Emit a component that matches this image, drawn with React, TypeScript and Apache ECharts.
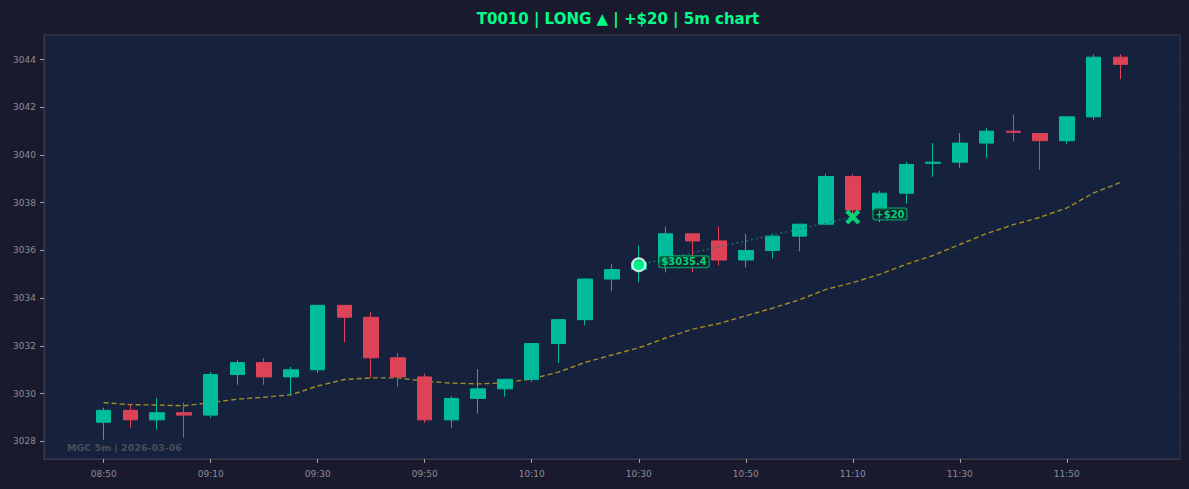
import React, { useEffect, useRef } from "react";
import * as echarts from "echarts";

// Candle times (5m bars) starting 08:50
const startMinutes = 8 * 60 + 50;
const barMinutes = 5;
// OHLC per bar
const opens = [3028.8, 3029.3, 3028.9, 3029.2, 3029.1, 3030.8, 3031.3, 3030.7, 3031.0, 3033.7, 3033.2, 3031.5, 3030.7, 3028.9, 3029.8, 3030.2, 3030.6, 3032.1, 3033.1, 3034.8, 3035.2, 3035.5, 3036.7, 3036.4, 3035.6, 3036.0, 3036.6, 3037.1, 3039.1, 3037.7, 3038.4, 3039.65, 3039.7, 3040.5, 3041.0, 3040.9, 3040.6, 3041.6, 3044.1];
const closes = [3029.3, 3028.9, 3029.2, 3029.1, 3030.8, 3031.3, 3030.7, 3031.0, 3033.7, 3033.2, 3031.5, 3030.7, 3028.9, 3029.8, 3030.2, 3030.6, 3032.1, 3033.1, 3034.8, 3035.2, 3035.5, 3036.7, 3036.4, 3035.6, 3036.0, 3036.6, 3037.1, 3039.1, 3037.7, 3038.4, 3039.6, 3039.7, 3040.5, 3041.0, 3040.95, 3040.6, 3041.6, 3044.1, 3043.8];
const lows = [3028.07, 3028.57, 3028.49, 3028.15, 3028.99, 3030.37, 3030.37, 3029.95, 3030.87, 3032.16, 3030.66, 3030.28, 3028.78, 3028.57, 3029.16, 3029.87, 3030.49, 3031.28, 3032.87, 3034.29, 3034.67, 3035.08, 3035.08, 3035.37, 3035.29, 3035.67, 3035.96, 3037.1, 3037.3, 3037.18, 3037.96, 3039.09, 3039.46, 3039.88, 3040.59, 3039.38, 3040.47, 3041.47, 3043.18];
const highs = [3029.41, 3029.54, 3029.82, 3029.62, 3030.91, 3031.41, 3031.49, 3031.12, 3033.7, 3033.7, 3033.41, 3031.7, 3030.83, 3029.9, 3031.03, 3030.6, 3032.12, 3033.12, 3034.83, 3035.42, 3036.2, 3037.0, 3036.7, 3037.0, 3036.7, 3036.7, 3037.12, 3039.21, 3039.2, 3038.5, 3039.71, 3040.5, 3040.92, 3041.13, 3041.71, 3040.92, 3041.63, 3044.22, 3044.22];
// moving average (dashed)
const maValues = [3029.62, 3029.54, 3029.52, 3029.49, 3029.62, 3029.77, 3029.85, 3029.95, 3030.32, 3030.59, 3030.66, 3030.66, 3030.52, 3030.44, 3030.41, 3030.45, 3030.62, 3030.9, 3031.31, 3031.62, 3031.92, 3032.33, 3032.7, 3032.94, 3033.26, 3033.58, 3033.93, 3034.37, 3034.65, 3035.0, 3035.42, 3035.79, 3036.25, 3036.71, 3037.08, 3037.39, 3037.78, 3038.41, 3038.85];

const entryIndex = 20;
const entryPrice = 3035.4;
const exitIndex = 28;
const exitPrice = 3037.4;
const entryLabel = "$3035.4";
const exitLabel = "+$20";

const xTickIndices = [0, 4, 8, 12, 16, 20, 24, 28, 32, 36];
const yTicks = [3028, 3030, 3032, 3034, 3036, 3038, 3040, 3042, 3044];

const titleText = "T0010 | LONG ▲ | +$20 | 5m chart";
const watermarkText = "MGC 5m | 2026-03-06";

function idxToTime(i: number): string {
  const m = startMinutes + i * barMinutes;
  const h = Math.floor(m / 60);
  const mm = m % 60;
  return `${String(h).padStart(2, "0")}:${String(mm).padStart(2, "0")}`;
}

const FONT = "DejaVu Sans";

export default function App() {
  const ref = useRef<HTMLDivElement>(null);
  useEffect(() => {
    if (!ref.current) return;
    const chart = echarts.init(ref.current, undefined, { renderer: "svg" });
    const candleData = opens.map((o, i) => [i, o, closes[i], lows[i], highs[i]]);
    const maData = maValues.map((v, i) => [i, v]);
    const green = "#00bc9b";
    const red = "#dd4257";
    const bright = "#00ff88";
    const tickColor = "#8c8c98";
    const spine = "#3a3a48";
    chart.setOption({
      animation: false,
      backgroundColor: "#1a1a2e",
      title: {
        text: titleText,
        left: 613,
        top: 6,
        textAlign: "center",
        textStyle: { color: bright, fontSize: 15, fontWeight: "bold", fontFamily: FONT },
      },
      grid: {
        left: 44,
        right: 9,
        top: 35,
        bottom: 30,
        show: true,
        backgroundColor: "#16213e",
        borderColor: spine,
        borderWidth: 1,
      },
      xAxis: {
        type: "value",
        min: -2.23,
        max: 40.23,
        axisLine: { show: true, onZero: false, lineStyle: { color: spine } },
        axisTick: {
          show: true,
          customValues: xTickIndices,
          length: 4,
          lineStyle: { color: "#a0a0ac", width: 1 },
        },
        axisLabel: {
          customValues: xTickIndices,
          formatter: (v: number) => idxToTime(Math.round(v)),
          color: tickColor,
          fontSize: 9,
          fontFamily: FONT,
          margin: 10,
        },
        splitLine: { show: true, lineStyle: { color: "rgba(255,255,255,0.02)", width: 1 } },
      },
      yAxis: {
        type: "value",
        min: 3027.26,
        max: 3045.03,
        axisLine: { show: true, onZero: false, lineStyle: { color: spine } },
        axisTick: {
          show: true,
          customValues: yTicks,
          length: 4,
          lineStyle: { color: "#a0a0ac", width: 1 },
        },
        axisLabel: {
          customValues: yTicks,
          formatter: (v: number) => String(Math.round(v)),
          color: tickColor,
          fontSize: 9,
          fontFamily: FONT,
          margin: 8,
        },
        splitLine: { show: true, lineStyle: { color: "rgba(255,255,255,0.02)", width: 1 } },
      },
      graphic: [
        {
          type: "text",
          left: 67,
          top: 442,
          silent: true,
          style: {
            text: watermarkText,
            fill: "#4b4e58",
            font: `bold 9.5px "${FONT}"`,
          },
        },
      ],
      series: [
        {
          type: "line",
          data: maData,
          symbol: "none",
          lineStyle: { color: "#b8a21c", width: 1.4, type: [5, 3], opacity: 0.85 },
          z: 2,
        },
        {
          type: "candlestick",
          data: candleData,
          encode: { x: 0, y: [1, 2, 3, 4] },
          barWidth: 15,
          itemStyle: {
            color: green,
            color0: red,
            borderColor: green,
            borderColor0: red,
            borderWidth: 1,
          },
          z: 3,
        },
        {
          type: "line",
          data: [
            [entryIndex, entryPrice],
            [exitIndex, exitPrice],
          ],
          symbol: "none",
          lineStyle: { color: "#1f7a6c", width: 1.5, type: [2, 3], opacity: 0.8 },
          z: 4,
        },
        {
          type: "scatter",
          data: [[entryIndex, entryPrice]],
          symbol: "circle",
          symbolSize: 13,
          itemStyle: { color: bright, borderColor: "#ffffff", borderWidth: 2 },
          label: {
            show: true,
            position: "right",
            distance: 13,
            offset: [0, -3],
            formatter: entryLabel,
            color: bright,
            fontSize: 10,
            fontWeight: "bold",
            fontFamily: FONT,
            backgroundColor: "rgba(13,36,42,0.85)",
            borderColor: "#00c46e",
            borderWidth: 1,
            borderRadius: 2,
            padding: [1, 2, 0, 2],
          },
          z: 6,
        },
        {
          type: "scatter",
          data: [[exitIndex, exitPrice]],
          symbol: "path://M2,0 L5,3 L8,0 L10,2 L7,5 L10,8 L8,10 L5,7 L2,10 L0,8 L3,5 L0,2 Z",
          symbolSize: 15,
          itemStyle: { color: bright },
          label: {
            show: true,
            position: "right",
            distance: 13,
            offset: [0, -3],
            formatter: exitLabel,
            color: bright,
            fontSize: 10,
            fontWeight: "bold",
            fontFamily: FONT,
            backgroundColor: "rgba(13,36,42,0.85)",
            borderColor: "#00c46e",
            borderWidth: 1,
            borderRadius: 2,
            padding: [1, 2, 0, 2],
          },
          z: 6,
        },
      ],
    });
    return () => chart.dispose();
  }, []);
  return (
    <div
      ref={ref}
      style={{ position: "fixed", left: 0, top: 0, width: 1189, height: 489 }}
    />
  );
}
